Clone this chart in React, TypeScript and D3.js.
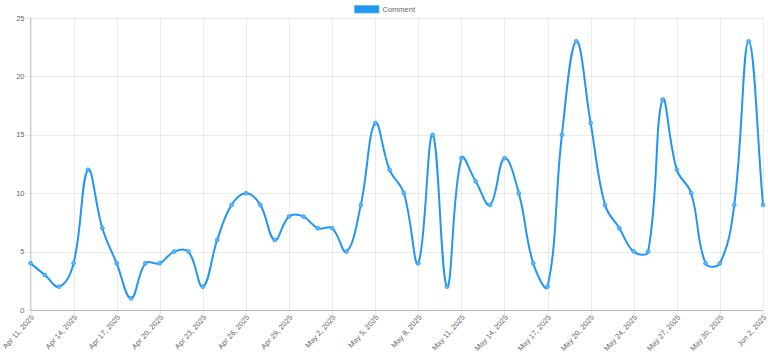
import { useEffect, useRef } from 'react';
import * as d3 from 'd3';

const dates = [
  'Apr 11, 2025', 'Apr 12, 2025', 'Apr 13, 2025', 'Apr 14, 2025', 'Apr 15, 2025', 'Apr 16, 2025',
  'Apr 17, 2025', 'Apr 18, 2025', 'Apr 19, 2025', 'Apr 20, 2025', 'Apr 21, 2025', 'Apr 22, 2025',
  'Apr 23, 2025', 'Apr 24, 2025', 'Apr 25, 2025', 'Apr 26, 2025', 'Apr 27, 2025', 'Apr 28, 2025',
  'Apr 29, 2025', 'Apr 30, 2025', 'May 1, 2025', 'May 2, 2025', 'May 3, 2025', 'May 4, 2025',
  'May 5, 2025', 'May 6, 2025', 'May 7, 2025', 'May 8, 2025', 'May 9, 2025', 'May 10, 2025',
  'May 11, 2025', 'May 12, 2025', 'May 13, 2025', 'May 14, 2025', 'May 15, 2025', 'May 16, 2025',
  'May 17, 2025', 'May 18, 2025', 'May 19, 2025', 'May 20, 2025', 'May 21, 2025', 'May 22, 2025',
  'May 24, 2025', 'May 25, 2025', 'May 26, 2025', 'May 27, 2025', 'May 28, 2025', 'May 29, 2025',
  'May 30, 2025', 'May 31, 2025', 'Jun 1, 2025', 'Jun 2, 2025',
];

const comments = [
  4, 3, 2, 4, 12, 7, 4, 1, 4, 4, 5, 5, 2, 6, 9, 10, 9, 6, 8, 8, 7, 7, 5, 9, 16, 12,
  10, 4, 15, 2, 13, 11, 9, 13, 10, 4, 2, 15, 23, 16, 9, 7, 5, 5, 18, 12, 10, 4, 4, 9, 23, 9,
];

const yTicks = [0, 5, 10, 15, 20, 25];
const seriesName = 'Comment';

const width = 768;
const height = 352;
const blue = '#2196f3';
const font = '"Liberation Sans", Arial, Helvetica, sans-serif';

// spline do Chart.js (tension 0.4)
function chartJsPath(pts: [number, number][], t = 0.4) {
  const cps = pts.map((p, i) => {
    const prev = pts[i - 1] || p;
    const next = pts[i + 1] || p;
    const d01 = Math.hypot(p[0] - prev[0], p[1] - prev[1]);
    const d12 = Math.hypot(next[0] - p[0], next[1] - p[1]);
    let s01 = d01 / (d01 + d12);
    let s12 = d12 / (d01 + d12);
    if (isNaN(s01)) s01 = 0;
    if (isNaN(s12)) s12 = 0;
    const fa = t * s01;
    const fb = t * s12;
    return {
      before: [p[0] - fa * (next[0] - prev[0]), p[1] - fa * (next[1] - prev[1])],
      after: [p[0] + fb * (next[0] - prev[0]), p[1] + fb * (next[1] - prev[1])],
    };
  });
  const path = d3.path();
  path.moveTo(pts[0][0], pts[0][1]);
  for (let i = 1; i < pts.length; i++) {
    const a = cps[i - 1].after;
    const b = cps[i].before;
    path.bezierCurveTo(a[0], a[1], b[0], b[1], pts[i][0], pts[i][1]);
  }
  return path.toString();
}

export default function App() {
  const svgRef = useRef<SVGSVGElement>(null);

  useEffect(() => {
    if (!svgRef.current) return;
    const svg = d3.select(svgRef.current);
    svg.selectAll('*').remove();

    const margin = { top: 18, right: 5, bottom: 42, left: 30.5 };

    const x = d3.scalePoint<string>()
      .domain(dates)
      .range([margin.left, width - margin.right]);

    const y = d3.scaleLinear()
      .domain([0, 25])
      .range([height - margin.bottom, margin.top]);

    const xTickLabels = dates.filter((_, i) => i % 3 === 0);

    // grid
    svg.append('g')
      .selectAll('line')
      .data(yTicks)
      .enter()
      .append('line')
      .attr('x1', margin.left - 5)
      .attr('x2', width - margin.right)
      .attr('y1', d => Math.round(y(d)) + 0.5)
      .attr('y2', d => Math.round(y(d)) + 0.5)
      .attr('stroke', 'rgba(0,0,0,0.08)');

    svg.append('g')
      .selectAll('line')
      .data(xTickLabels)
      .enter()
      .append('line')
      .attr('x1', d => Math.round(x(d) || 0) + 0.5)
      .attr('x2', d => Math.round(x(d) || 0) + 0.5)
      .attr('y1', margin.top)
      .attr('y2', height - margin.bottom + 5)
      .attr('stroke', 'rgba(0,0,0,0.08)');

    // eixos
    svg.append('line')
      .attr('x1', margin.left)
      .attr('x2', margin.left)
      .attr('y1', margin.top)
      .attr('y2', height - margin.bottom)
      .attr('stroke', 'rgba(0,0,0,0.2)');
    svg.append('line')
      .attr('x1', margin.left)
      .attr('x2', width - margin.right)
      .attr('y1', Math.round(y(0)) + 0.5)
      .attr('y2', Math.round(y(0)) + 0.5)
      .attr('stroke', 'rgba(0,0,0,0.2)');

    // labels Y
    svg.append('g')
      .selectAll('text')
      .data(yTicks)
      .enter()
      .append('text')
      .attr('x', margin.left - 6)
      .attr('y', d => y(d))
      .attr('dy', '0.35em')
      .attr('text-anchor', 'end')
      .style('font-family', font)
      .style('font-size', '7.5px')
      .style('fill', '#666')
      .text(d => d);

    // labels X
    svg.append('g')
      .selectAll('text')
      .data(xTickLabels)
      .enter()
      .append('text')
      .attr('transform', d => `translate(${(x(d) || 0) + 2},${height - margin.bottom + 6}) rotate(-48)`)
      .attr('text-anchor', 'end')
      .attr('dy', '0.35em')
      .style('font-family', font)
      .style('font-size', '7.5px')
      .style('fill', '#666')
      .text(d => d);

    // linha
    const pts: [number, number][] = dates.map((d, i) => [x(d) || 0, y(comments[i])]);
    svg.append('path')
      .attr('d', chartJsPath(pts))
      .attr('fill', 'none')
      .attr('stroke', blue)
      .attr('stroke-width', 2);

    // pontos
    svg.append('g')
      .selectAll('circle')
      .data(comments)
      .enter()
      .append('circle')
      .attr('cx', (_, i) => x(dates[i]) || 0)
      .attr('cy', d => y(d))
      .attr('r', 2)
      .attr('fill', '#64b5f6')
      .attr('stroke', blue)
      .attr('stroke-width', 0.6);

    // legenda
    const legend = svg.append('g').attr('transform', 'translate(354,5)');
    legend.append('rect')
      .attr('x', 0.5)
      .attr('y', 0.5)
      .attr('width', 24.5)
      .attr('height', 7.5)
      .attr('fill', blue)
      .attr('stroke', '#64b5f6')
      .attr('stroke-width', 0.8);
    legend.append('text')
      .attr('x', 28.5)
      .attr('y', 4.5)
      .attr('dy', '0.35em')
      .style('font-family', font)
      .style('font-size', '7.5px')
      .style('fill', '#666')
      .text(seriesName);
  }, []);

  return (
    <div style={{ position: 'absolute', left: 0, top: 0 }}>
      <svg ref={svgRef} width={width} height={height} style={{ display: 'block', background: '#fff' }} />
    </div>
  );
}
